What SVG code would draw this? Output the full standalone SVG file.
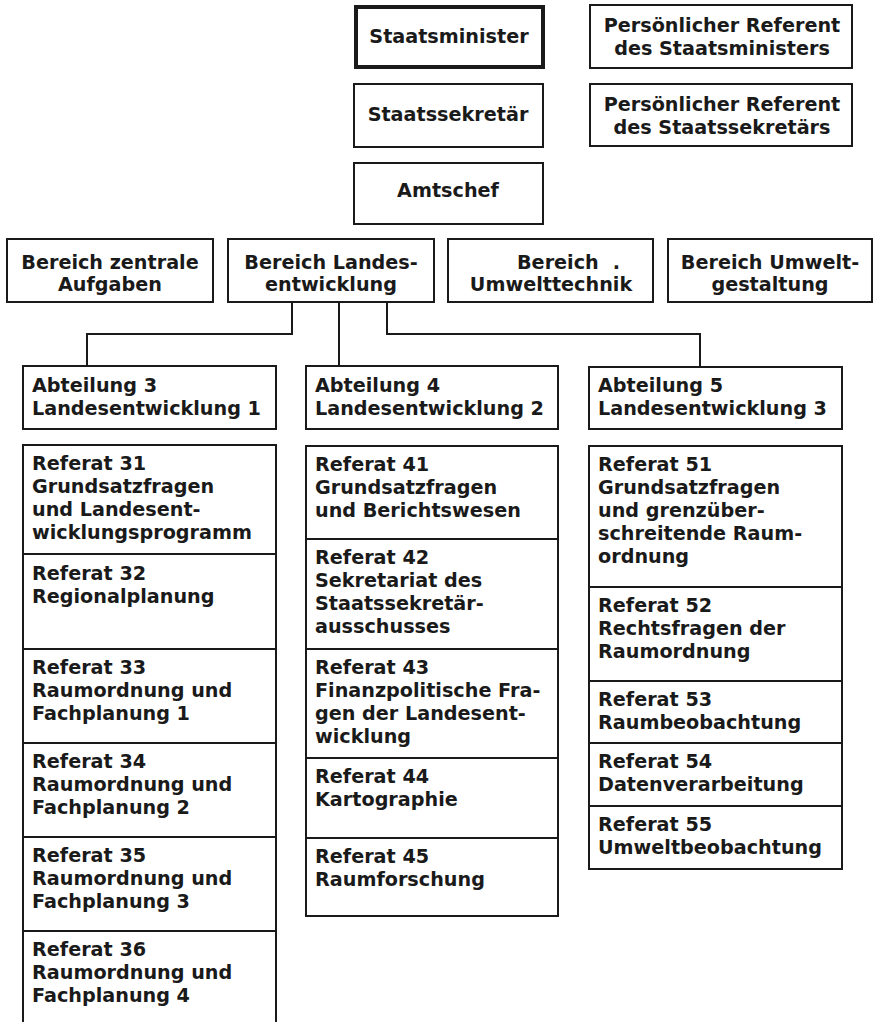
<svg xmlns="http://www.w3.org/2000/svg" width="874" height="1022" viewBox="0 0 874 1022">
<style>
.box{fill:#fff;stroke:#1a1a1a;stroke-width:2}
.thick{stroke-width:4}
text{font-family:"DejaVu Sans","Liberation Sans",sans-serif;font-weight:bold;font-size:19.2px;fill:#1a1a1a}
.c{text-anchor:middle}
.conn{fill:none;stroke:#1a1a1a;stroke-width:2}
</style>
<rect width="874" height="1022" fill="#fff"/>
<g id="connectors">
<path class="conn" d="M292 302V334H87V366"/>
<path class="conn" d="M339 302V366"/>
<path class="conn" d="M387 302V334H700V367"/>
</g>
<g id="staatsminister"><rect class="box thick" x="356" y="7" width="187" height="60"/><text class="c" x="449" y="43">Staatsminister</text></g>
<g id="referent-minister"><rect class="box" x="590" y="5" width="262" height="63"/><text class="c" x="722" y="32">Persönlicher Referent<tspan x="722" dy="23">des Staatsministers</tspan></text></g>
<g id="staatssekretaer"><rect class="box" x="354" y="84" width="189" height="63"/><text class="c" x="448" y="121">Staatssekretär</text></g>
<g id="referent-sekretaer"><rect class="box" x="590" y="84" width="262" height="62"/><text class="c" x="722" y="111">Persönlicher Referent<tspan x="722" dy="23">des Staatssekretärs</tspan></text></g>
<g id="amtschef"><rect class="box" x="354" y="163" width="189" height="61"/><text class="c" x="448" y="197">Amtschef</text></g>
<g id="bereich-zentrale"><rect class="box" x="7" y="239" width="206" height="63"/><text class="c" x="110" y="268.5">Bereich zentrale<tspan x="110" dy="22.5">Aufgaben</tspan></text></g>
<g id="bereich-landes"><rect class="box" x="228" y="239" width="206" height="63"/><text class="c" x="331" y="268.5">Bereich Landes-<tspan x="331" dy="22.5">entwicklung</tspan></text></g>
<g id="bereich-umwelttechnik"><rect class="box" x="448" y="239" width="205" height="63"/><text x="517" y="268.5">Bereich<tspan dx="14">.</tspan><tspan class="c" x="551" dy="22.5">Umwelttechnik</tspan></text></g>
<g id="bereich-umweltgestaltung"><rect class="box" x="668" y="239" width="204" height="63"/><text class="c" x="770" y="268.5">Bereich Umwelt-<tspan x="770" dy="22.5">gestaltung</tspan></text></g>
<g id="abteilung3"><rect class="box" x="23" y="366" width="253" height="63"/><text x="32" y="392">Abteilung 3<tspan x="32" dy="23">Landesentwicklung 1</tspan></text></g>
<g id="abteilung4"><rect class="box" x="306" y="366" width="252" height="63"/><text x="315" y="392">Abteilung 4<tspan x="315" dy="23">Landesentwicklung 2</tspan></text></g>
<g id="abteilung5"><rect class="box" x="589" y="367" width="253" height="62"/><text x="598" y="392">Abteilung 5<tspan x="598" dy="23">Landesentwicklung 3</tspan></text></g>
<g id="referat31"><rect class="box" x="23" y="445" width="253" height="109"/><text x="32" y="470">Referat 31<tspan x="32" dy="23">Grundsatzfragen</tspan><tspan x="32" dy="23">und Landesent-</tspan><tspan x="32" dy="23">wicklungsprogramm</tspan></text></g>
<g id="referat32"><rect class="box" x="23" y="554" width="253" height="95"/><text x="32" y="580">Referat 32<tspan x="32" dy="23">Regionalplanung</tspan></text></g>
<g id="referat33"><rect class="box" x="23" y="649" width="253" height="94"/><text x="32" y="674">Referat 33<tspan x="32" dy="23">Raumordnung und</tspan><tspan x="32" dy="23">Fachplanung 1</tspan></text></g>
<g id="referat34"><rect class="box" x="23" y="743" width="253" height="94"/><text x="32" y="768">Referat 34<tspan x="32" dy="23">Raumordnung und</tspan><tspan x="32" dy="23">Fachplanung 2</tspan></text></g>
<g id="referat35"><rect class="box" x="23" y="837" width="253" height="94"/><text x="32" y="862">Referat 35<tspan x="32" dy="23">Raumordnung und</tspan><tspan x="32" dy="23">Fachplanung 3</tspan></text></g>
<g id="referat36"><rect class="box" x="23" y="931" width="253" height="110"/><text x="32" y="956">Referat 36<tspan x="32" dy="23">Raumordnung und</tspan><tspan x="32" dy="23">Fachplanung 4</tspan></text></g>
<g id="referat41"><rect class="box" x="306" y="446" width="252" height="93"/><text x="315" y="471">Referat 41<tspan x="315" dy="23">Grundsatzfragen</tspan><tspan x="315" dy="23">und Berichtswesen</tspan></text></g>
<g id="referat42"><rect class="box" x="306" y="539" width="252" height="110"/><text x="315" y="564">Referat 42<tspan x="315" dy="23">Sekretariat des</tspan><tspan x="315" dy="23">Staatssekretär-</tspan><tspan x="315" dy="23">ausschusses</tspan></text></g>
<g id="referat43"><rect class="box" x="306" y="649" width="252" height="109"/><text x="315" y="674">Referat 43<tspan x="315" dy="23">Finanzpolitische Fra-</tspan><tspan x="315" dy="23">gen der Landesent-</tspan><tspan x="315" dy="23">wicklung</tspan></text></g>
<g id="referat44"><rect class="box" x="306" y="758" width="252" height="80"/><text x="315" y="783">Referat 44<tspan x="315" dy="23">Kartographie</tspan></text></g>
<g id="referat45"><rect class="box" x="306" y="838" width="252" height="78"/><text x="315" y="863">Referat 45<tspan x="315" dy="23">Raumforschung</tspan></text></g>
<g id="referat51"><rect class="box" x="589" y="446" width="253" height="141"/><text x="598" y="471">Referat 51<tspan x="598" dy="23">Grundsatzfragen</tspan><tspan x="598" dy="23">und grenzüber-</tspan><tspan x="598" dy="23">schreitende Raum-</tspan><tspan x="598" dy="23">ordnung</tspan></text></g>
<g id="referat52"><rect class="box" x="589" y="587" width="253" height="94"/><text x="598" y="612">Referat 52<tspan x="598" dy="23">Rechtsfragen der</tspan><tspan x="598" dy="23">Raumordnung</tspan></text></g>
<g id="referat53"><rect class="box" x="589" y="681" width="253" height="62"/><text x="598" y="706">Referat 53<tspan x="598" dy="23">Raumbeobachtung</tspan></text></g>
<g id="referat54"><rect class="box" x="589" y="743" width="253" height="63"/><text x="598" y="768">Referat 54<tspan x="598" dy="23">Datenverarbeitung</tspan></text></g>
<g id="referat55"><rect class="box" x="589" y="806" width="253" height="63"/><text x="598" y="831">Referat 55<tspan x="598" dy="23">Umweltbeobachtung</tspan></text></g>
</svg>
